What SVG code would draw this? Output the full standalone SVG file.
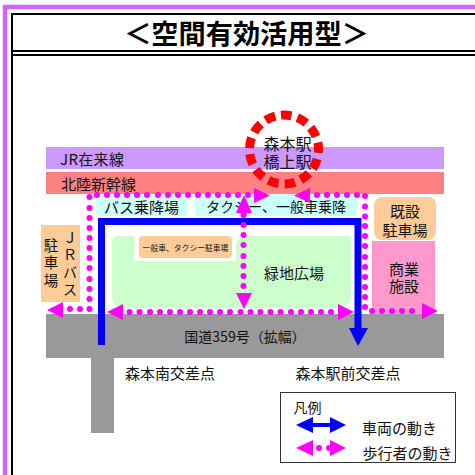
<svg xmlns="http://www.w3.org/2000/svg" width="475" height="475" viewBox="0 0 475 475">
<style>
text{font-family:"Noto Sans CJK JP","Noto Sans CJK SC",sans-serif;fill:#111;text-anchor:middle;dominant-baseline:central}
.s15{font-size:15px}.s14{font-size:14px}.st{font-size:16px}
.vt{font-size:14.500px;writing-mode:vertical-rl;text-orientation:upright}
.dots circle{fill:#f0f;r:3px}
.pk{fill:#f0f}.bl{fill:#00f}
.gr{fill:#999}
.or{fill:#fc9}
</style>
<rect width="475" height="475" fill="#fff"/>
<g id="frame" fill="none">
<path d="M5 475V7H475" stroke="#c6f" stroke-width="4.5"/>
<path d="M12 475V14H475" stroke="#000" stroke-width="2"/>
<path d="M12 51H475M12 55H475" stroke="#000" stroke-width="2"/>
</g>
<g id="title"><text x="246.500" y="32" font-size="27.200" font-weight="700" style="fill:#000">＜空間有効活用型＞</text></g>
<g id="jr-line"><rect x="46" y="147" width="398" height="22" fill="#c9f"/><text class="s15" x="92" y="158" textLength="64">JR在来線</text></g>
<g id="shinkansen"><rect x="46" y="172" width="398" height="22" fill="#ff8080"/><text class="s15" x="98.500" y="183.500">北陸新幹線</text></g>
<g id="road"><rect x="46" y="314" width="398" height="44" class="gr"/><rect x="91" y="358" width="23" height="75" class="gr"/><text class="s14" x="245" y="336">国道359号（拡幅）</text></g>
<g id="bus-bay"><rect x="96" y="194" width="91" height="22" rx="4" fill="#cff"/><text class="s15" x="141.500" y="206">バス乗降場</text></g>
<g id="taxi-bay"><rect x="195" y="194" width="162" height="22" rx="4" fill="#cff"/><text class="s14" x="276" y="206">タクシー、一般車乗降</text></g>
<g id="plaza"><path d="M124 236H351V296a12 12 0 0 1-12 12H124a12 12 0 0 1-12-12V242a6 6 0 0 1 6-6Z" fill="#cfc"/><path d="M134 236H246a10 10 0 0 0-10 10V261H134Z" fill="#fff"/><text class="s15" x="294" y="272">緑地広場</text></g>
<g id="car-park"><rect x="139" y="236" width="93" height="22" rx="4" class="or"/><text x="185.500" y="247" font-size="7.800">一般車、タクシー駐車場</text></g>
<g id="bus-park"><rect x="41" y="225" width="39" height="77" class="or"/>
<text class="vt" x="51" y="264" style="letter-spacing:3px">駐車場</text>
<text class="vt" x="70" y="265" style="letter-spacing:2.800px">ＪＲバス</text></g>
<g id="existing-park"><rect x="374" y="197" width="62" height="43" rx="8" class="or"/><text class="s15"><tspan x="405" y="209.500">既設</tspan><tspan x="405" y="228.500">駐車場</tspan></text></g>
<g id="shops"><rect x="372" y="241" width="63" height="73" fill="#f9c"/><text class="s15"><tspan x="404" y="268">商業</tspan><tspan x="404" y="285">施設</tspan></text></g>
<g id="connectors">
<g id="vehicle-route"><path d="M101.500 345V221.500H358V330" fill="none" stroke="#00f" stroke-width="7"/><polygon class="bl" points="349,328 368,328 358,346"/></g>
<g id="pedestrian-routes" class="dots">
<circle cx="97" cy="195"/><circle cx="107" cy="195"/><circle cx="117" cy="195"/><circle cx="127" cy="195"/><circle cx="137" cy="195"/><circle cx="147" cy="195"/><circle cx="158" cy="195"/><circle cx="168" cy="195"/><circle cx="178" cy="195"/><circle cx="188" cy="195"/><circle cx="198" cy="195"/><circle cx="208" cy="195"/><circle cx="218" cy="195"/><circle cx="228" cy="195"/><circle cx="238" cy="195"/><circle cx="248" cy="195"/>
<circle cx="317" cy="195"/><circle cx="327" cy="195"/><circle cx="337" cy="195"/><circle cx="347" cy="195"/><circle cx="357" cy="195"/>
<circle cx="89.500" cy="197"/><circle cx="89.500" cy="208"/><circle cx="89.500" cy="218"/><circle cx="89.500" cy="228"/><circle cx="89.500" cy="238"/><circle cx="89.500" cy="248"/><circle cx="89.500" cy="258"/><circle cx="89.500" cy="268"/><circle cx="89.500" cy="279"/><circle cx="89.500" cy="289"/><circle cx="89.500" cy="299"/><circle cx="89.500" cy="309"/><circle cx="80" cy="309"/><circle cx="70" cy="309"/>
<polygon points="47,310 63,302 63,318" class="pk"/>
<circle cx="129.500" cy="312"/><circle cx="139.500" cy="312"/><circle cx="150" cy="312"/><circle cx="160" cy="312"/><circle cx="170" cy="312"/><circle cx="180" cy="312"/><circle cx="190" cy="312"/><circle cx="200" cy="312"/><circle cx="210" cy="312"/><circle cx="220" cy="312"/><circle cx="230" cy="312"/><circle cx="240.500" cy="312"/><circle cx="250.500" cy="312"/><circle cx="260.500" cy="312"/><circle cx="270.500" cy="312"/><circle cx="280.500" cy="312"/><circle cx="291" cy="312"/><circle cx="301" cy="312"/><circle cx="311" cy="312"/><circle cx="321" cy="312"/><circle cx="331" cy="312"/>
<polygon points="107,312 123,304 123,320" class="pk"/><polygon points="354,312 338,304 338,320" class="pk"/>
<circle cx="365" cy="196"/><circle cx="365" cy="206.500"/><circle cx="365" cy="216.500"/><circle cx="365" cy="226"/><circle cx="365" cy="236"/><circle cx="365" cy="246"/><circle cx="365" cy="257"/><circle cx="365" cy="267"/><circle cx="365" cy="277"/><circle cx="365" cy="287"/><circle cx="365" cy="297"/><circle cx="365" cy="307"/>
<circle cx="372" cy="311"/><circle cx="382" cy="311"/><circle cx="392" cy="311"/><circle cx="402" cy="311"/><circle cx="412" cy="311"/>
<polygon points="438,311 422,303 422,319" class="pk"/>
<circle cx="243.500" cy="215"/><circle cx="243.500" cy="225"/><circle cx="243.500" cy="235"/><circle cx="243.500" cy="245"/><circle cx="243.500" cy="256"/><circle cx="243.500" cy="266"/><circle cx="243.500" cy="276"/><circle cx="243.500" cy="286"/>
<polygon points="244,195 236,213 252,213" class="pk"/><polygon points="244,309 236,293 252,293" class="pk"/>
<polygon points="270,195.500 254,188 254,203" class="pk"/><polygon points="294,195.500 310,188 310,203" class="pk"/>
</g>
</g>
<g id="station"><circle cx="284" cy="149.500" r="34.500" fill="none" stroke="#f00" stroke-width="9" stroke-dasharray="10.500 6.175" transform="rotate(-95 284 149.500)"/><text class="st"><tspan x="287.500" y="142.500">森本駅</tspan><tspan x="287.500" y="161">橋上駅</tspan></text></g>
<g id="label-south"><text class="s15" x="170" y="372">森本南交差点</text></g>
<g id="label-station-front"><text class="s15" x="348" y="372">森本駅前交差点</text></g>
<g id="legend"><rect x="280.500" y="392.500" width="175" height="70" fill="#fff" stroke="#333"/>
<text class="s14" x="307.500" y="407">凡例</text>
<path d="M310 425H332" stroke="#00f" stroke-width="4"/><polygon class="bl" points="296,425 313,417 313,433"/><polygon class="bl" points="346,425 330,417 330,433"/>
<text class="s15" x="399.500" y="427">車両の動き</text>
<polygon class="pk" points="296,448 313,440 313,456"/><circle class="pk" cx="319" cy="448" r="3"/><circle class="pk" cx="329" cy="448" r="3"/><polygon class="pk" points="346,448 330,440 330,456"/>
<text class="s15" x="407.500" y="452">歩行者の動き</text></g>
</svg>
